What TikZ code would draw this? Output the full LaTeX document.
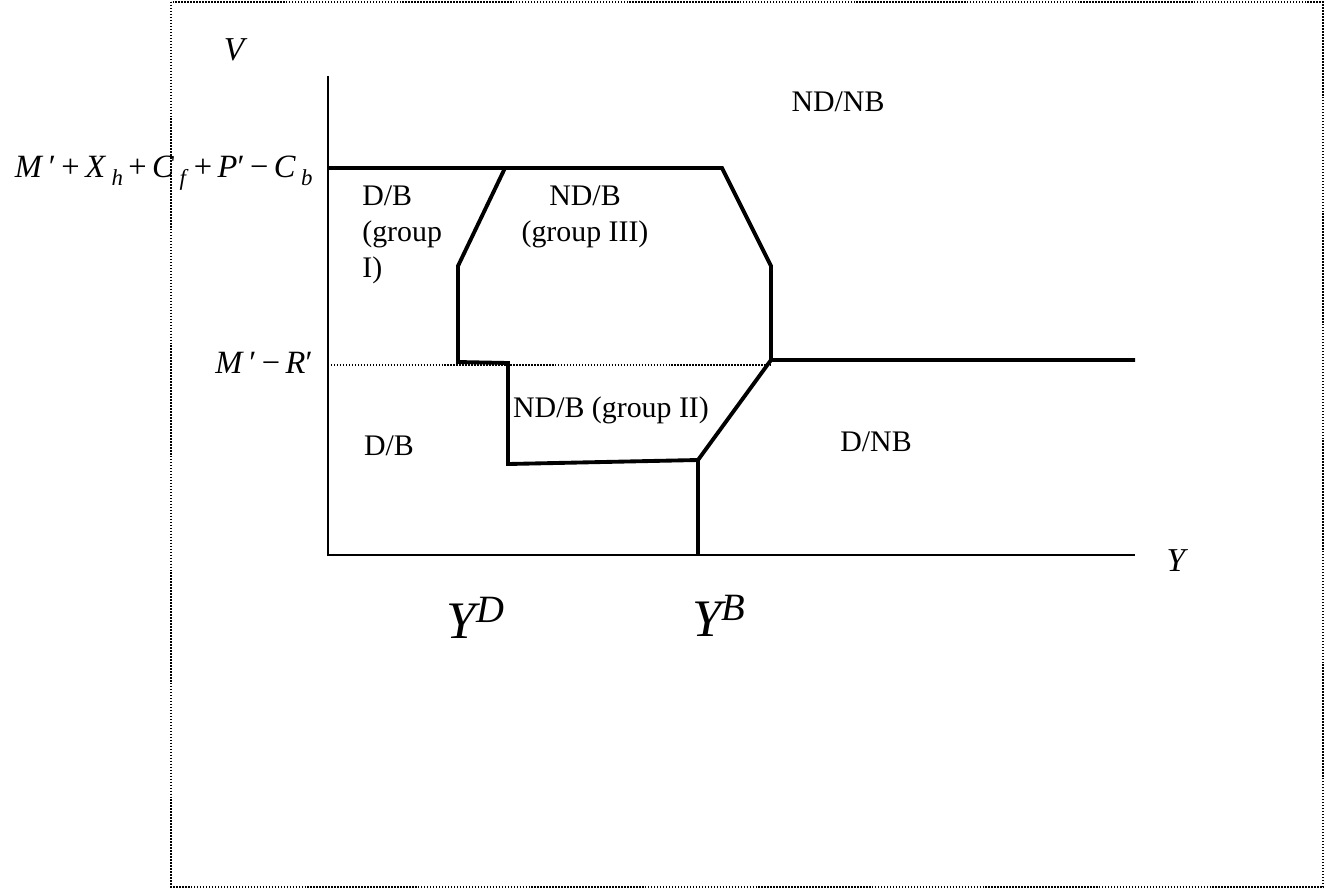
\documentclass[tikz,border=0pt]{standalone}
\usepackage{fontspec}
\setmainfont{Liberation Serif}
\newlength{\du}
\setlength{\du}{0.02cm}
\newcommand{\lowsub}[1]{\raisebox{-0.55ex}{\fontsize{13}{13}\selectfont\textit{#1}}}

\begin{document}
\begin{tikzpicture}
\pgftransformxscale{1.000000}
\pgftransformyscale{-1.000000}
\tikzset{
  region/.style={inner sep=0pt, font=\fontsize{17}{20.5}\selectfont},
  mathlabel/.style={inner sep=0pt, font=\fontsize{18.5}{22}\selectfont},
  axlabel/.style={inner sep=0pt, font=\fontsize{19}{22}\selectfont\itshape},
  biglabel/.style={inner sep=0pt, font=\fontsize{30}{33}\selectfont\itshape},
  bound/.style={line width=2.2pt, line join=miter},
  axis/.style={line width=1.1pt},
  dotline/.style={line width=0.85pt, dash pattern=on 0.85pt off 0.85pt}
}
\useasboundingbox (0\du,0\du) rectangle (1326\du,890\du);
% frame
\draw[dotline] (171\du,2\du) rectangle (1323\du,887\du);
% axes
\coordinate (ytop) at (328\du,76\du);
\coordinate (orig) at (328\du,555\du);
\coordinate (xend) at (1135\du,555\du);
\draw[axis] (ytop)--(orig)--(xend);
% level lines
\coordinate (t1) at (328\du,168\du);
\coordinate (t2) at (505\du,168\du);
\coordinate (t3) at (722\du,168\du);
\coordinate (m1) at (328\du,365\du);
\coordinate (m2) at (771\du,365\du);
\draw[dotline] (m1)--(m2);
% boundaries
\coordinate (a) at (458\du,266\du);
\coordinate (b) at (458\du,362\du);
\coordinate (c) at (508\du,363\du);
\coordinate (d) at (508\du,464\du);
\coordinate (e) at (698\du,460\du);
\coordinate (f) at (698\du,555\du);
\coordinate (g) at (771\du,266\du);
\coordinate (h) at (771\du,360\du);
\coordinate (k) at (1135\du,360\du);
\draw[bound] (t1)--(t3)--(g)--(h)--(k);
\draw[bound] (t2)--(a)--(b)--(c)--(d)--(e)--(f);
\draw[bound] (h)--(e);
% setfont left to latex
\node[axlabel] (vlab) at (234\du,50\du){V};
\node[axlabel] (ylab) at (1176\du,561\du){Y};
\node[mathlabel, anchor=base east] (toplab) at (313\du,177\du){\textit{M}\,′\,+\,\textit{X}\,\lowsub{h}\,+\,\textit{C}\,\lowsub{f}\,+\,\textit{P}′\,−\,\textit{C}\,\lowsub{b}};
\node[mathlabel, anchor=base east] (midlab) at (313\du,373\du){\textit{M}\,′\,−\,\textit{R}′};
\node[biglabel] (yd) at (476\du,618\du){Y\textsuperscript{\fontsize{22}{22}\selectfont D}};
\node[biglabel] (yb) at (719\du,616\du){Y\textsuperscript{\fontsize{22}{22}\selectfont B}};
\node[region] (ndnb) at (838\du,102\du){ND/NB};
\node[region, anchor=north west, align=left] (dbone) at (362\du,185\du){D/B\\(group\\I)};
\node[region, align=center] (ndbthree) at (585\du,217\du){ND/B\\(group III)};
\node[region] (ndbtwo) at (611\du,410\du){ND/B (group II)};
\node[region] (db) at (389\du,446\du){D/B};
\node[region] (dnb) at (876\du,442\du){D/NB};
\end{tikzpicture}
\end{document}
